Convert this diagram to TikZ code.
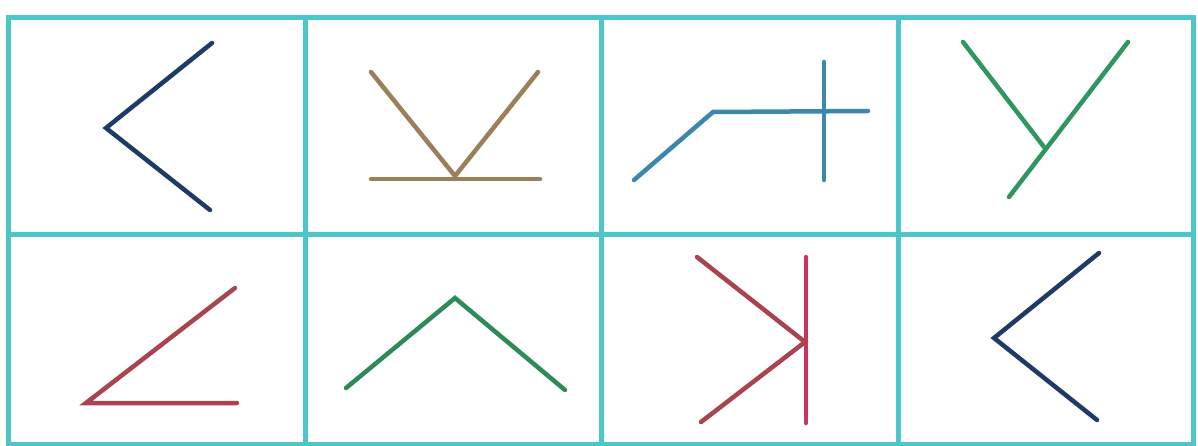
\documentclass[tikz,border=0pt]{standalone}
\begin{document}
\begin{tikzpicture}[x=1pt,y=-1pt,
  grid/.style={draw=gridc,line width=5pt},
  stroke/.style={line width=4.5pt,line cap=round,line join=miter}]
\definecolor{gridc}{HTML}{4CC6C8}
\definecolor{navy}{HTML}{1E3A66}
\definecolor{brownc}{HTML}{9C7E5A}
\definecolor{steel}{HTML}{3A88AC}
\definecolor{greenY}{HTML}{2F9660}
\definecolor{greenA}{HTML}{2E8A56}
\definecolor{redbrown}{HTML}{A8444E}
\definecolor{pinkred}{HTML}{C8345E}
\useasboundingbox (0,0) rectangle (1198,446);
\fill[white] (0,0) rectangle (1198,446);
% grid
\draw[grid] (8,18) rectangle (1193,444);
\draw[grid] (305,18) -- (305,444);
\draw[grid] (601,18) -- (601,444);
\draw[grid] (898,18) -- (898,444);
\draw[grid] (8,235) -- (1193,235);
% cell 1
\draw[stroke,navy] (212,43) -- (106,128) -- (210,210);
% cell 2
\draw[stroke,brownc] (371,72) -- (455,176) -- (538,72);
\draw[stroke,brownc] (371,179) -- (540,179);
% cell 3
\draw[stroke,steel] (634,180) -- (713,112) -- (868,111);
\draw[stroke,steel] (824,62) -- (824,180);
% cell 4
\draw[stroke,greenY] (963,42) -- (1044,147);
\draw[stroke,greenY] (1128,42) -- (1009,197);
% cell 5
\draw[stroke,redbrown] (235,288) -- (86,403) -- (237,403);
% cell 6
\draw[stroke,greenA] (346,388) -- (455,298) -- (565,390);
% cell 7
\draw[stroke,pinkred] (806,257) -- (806,423);
\draw[stroke,redbrown] (697,257) -- (805,342) -- (701,422);
% cell 8
\draw[stroke,navy] (1099,253) -- (994,338) -- (1097,420);
\end{tikzpicture}
\end{document}
